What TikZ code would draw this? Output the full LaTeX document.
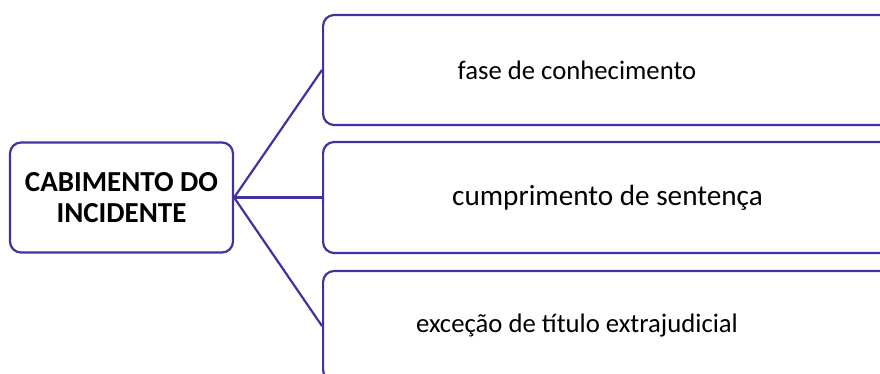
\documentclass[tikz,border=0pt]{standalone}
\usepackage{fontspec}
\setmainfont{Carlito}
\usepackage{tikz}
\definecolor{mapblue}{RGB}{66,50,160}

\begin{document}
\begin{tikzpicture}[x=1pt,y=-1pt,
  box/.style={draw=mapblue,line width=2.2pt,rounded corners=11pt,fill=white},
  txt/.style={font=\fontsize{26.7}{31}\selectfont,inner sep=0pt}]
\useasboundingbox (0,0) rectangle (880,374);
\node[box,minimum width=223pt,minimum height=110pt,align=center,
  font=\fontsize{29}{31}\selectfont\bfseries] (cab) at (121.5,197.5) {CABIMENTO DO\\INCIDENTE};
\node[box,minimum width=600pt,minimum height=110pt,anchor=west] (fase) at (322,70) {};
\node[box,minimum width=600pt,minimum height=111pt,anchor=west] (cump) at (322,197.5) {};
\node[box,minimum width=600pt,minimum height=110pt,anchor=west] (exc) at (322,326) {};
\node[txt] (tfase) at (577,70) {fase de conhecimento};
\node[txt,font=\fontsize{29.2}{33}\selectfont] (tcump) at (607.5,198) {cumprimento de sentença};
\node[txt] (texc) at (577,326) {exceção de título extrajudicial};
\draw[mapblue,line width=2.2pt] (fase.west) -- (cab.east) -- (exc.west);
\draw[mapblue,line width=2.2pt] (cab.east) -- (cump.west);
\end{tikzpicture}
\end{document}
